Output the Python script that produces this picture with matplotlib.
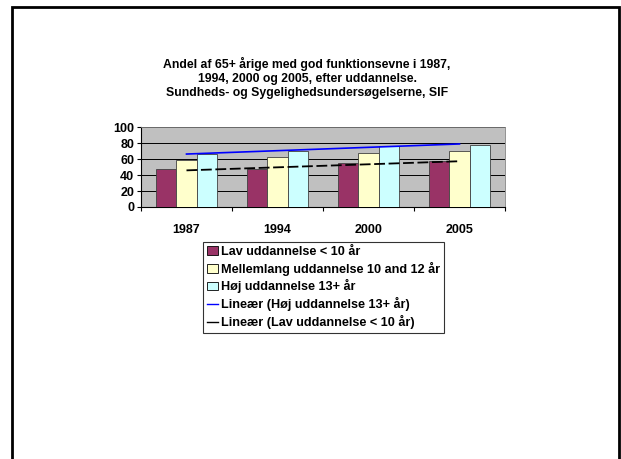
import numpy as np
import matplotlib
matplotlib.use("Agg")
import matplotlib.pyplot as plt
from matplotlib.patches import Rectangle
from matplotlib.lines import Line2D

plt.rcParams["font.family"] = ["Liberation Sans", "DejaVu Sans"]
plt.rcParams["font.weight"] = "bold"

years = ["1987", "1994", "2000", "2005"]
lav = [47, 47, 55, 57]
mellem = [59, 62, 68, 70]
hoj = [66, 70, 76, 78]

series_names = [
    "Lav uddannelse < 10 år",
    "Mellemlang uddannelse 10 and 12 år",
    "Høj uddannelse 13+ år",
]
trend_names = [
    "Lineær (Høj uddannelse 13+ år)",
    "Lineær (Lav uddannelse < 10 år)",
]
colors = ["#993366", "#FFFFCC", "#CCFFFF"]

W, H = 621, 459
fig = plt.figure(figsize=(W / 100, H / 100), dpi=100)

# slide frame (bottom edge runs off the picture)
fig.patches.append(Rectangle((12 / W, -0.05), (619 - 12) / W, 1 - 6.5 / H + 0.05,
                             transform=fig.transFigure, fill=False,
                             edgecolor="black", linewidth=2))

fig.text(307 / W, 1 - 78 / H,
         "Andel af 65+ årige med god funktionsevne i 1987,\n"
         "1994, 2000 og 2005, efter uddannelse.\n"
         "Sundheds- og Sygelighedsundersøgelserne, SIF",
         ha="center", va="center", fontsize=8.8, fontweight="bold",
         linespacing=1.27)

ax = fig.add_axes([141 / W, 1 - 207 / H, (505 - 141) / W, (207 - 127) / H])
ax.set_facecolor("#C0C0C0")

x = np.arange(len(years))
bw = 1 / 4.5
for i, vals in enumerate([lav, mellem, hoj]):
    ax.bar(x + (i - 1) * bw, vals, width=bw, color=colors[i],
           edgecolor="#404040", linewidth=0.6, zorder=3)

# linear trend lines (least squares fit)
for vals, col, ls, lw in [(hoj, "#0000FF", "-", 1.2), (lav, "black", (0, (6, 2)), 1.3)]:
    k, m = np.polyfit(x, vals, 1)
    ax.plot(x, k * x + m, color=col, linestyle=ls, linewidth=lw, zorder=4)

ax.set_xlim(-0.5, len(years) - 0.5)
ax.set_ylim(0, 100)
ax.set_yticks(range(0, 101, 20))
ax.yaxis.grid(True, color="black", linewidth=0.7)
ax.set_axisbelow(True)
ax.set_xticks(x)
ax.set_xticklabels(years)
ax.set_xticks(np.arange(-0.5, len(years), 1), minor=True)
ax.tick_params(axis="x", which="major", length=0, pad=12, labelsize=9)
ax.tick_params(axis="x", which="minor", length=3, width=0.8, direction="out")
ax.tick_params(axis="y", length=3, width=0.8, direction="out", pad=2, labelsize=9)
for lab in ax.get_xticklabels() + ax.get_yticklabels():
    lab.set_fontweight("bold")
for s in ["top", "right"]:
    ax.spines[s].set_color("#808080")
    ax.spines[s].set_linewidth(0.6)
for s in ["left", "bottom"]:
    ax.spines[s].set_color("black")
    ax.spines[s].set_linewidth(0.8)

handles = [Rectangle((0, 0), 1, 1, facecolor=c, edgecolor="black", linewidth=0.6)
           for c in colors]
handles += [Line2D([], [], color="#0000FF", linewidth=1),
            Line2D([], [], color="black", linewidth=1)]
leg = fig.legend(handles, series_names + trend_names,
                 loc="upper left", bbox_to_anchor=(203 / W, 1 - 242 / H),
                 fontsize=9.1, frameon=True, fancybox=False,
                 handlelength=0.9, handleheight=0.7, handletextpad=0.25,
                 labelspacing=0.3, borderpad=0.3, borderaxespad=0)
leg.get_frame().set_edgecolor("black")
leg.get_frame().set_linewidth(0.8)
for t in leg.get_texts():
    t.set_fontweight("bold")

fig.savefig("out.png", dpi=100)
